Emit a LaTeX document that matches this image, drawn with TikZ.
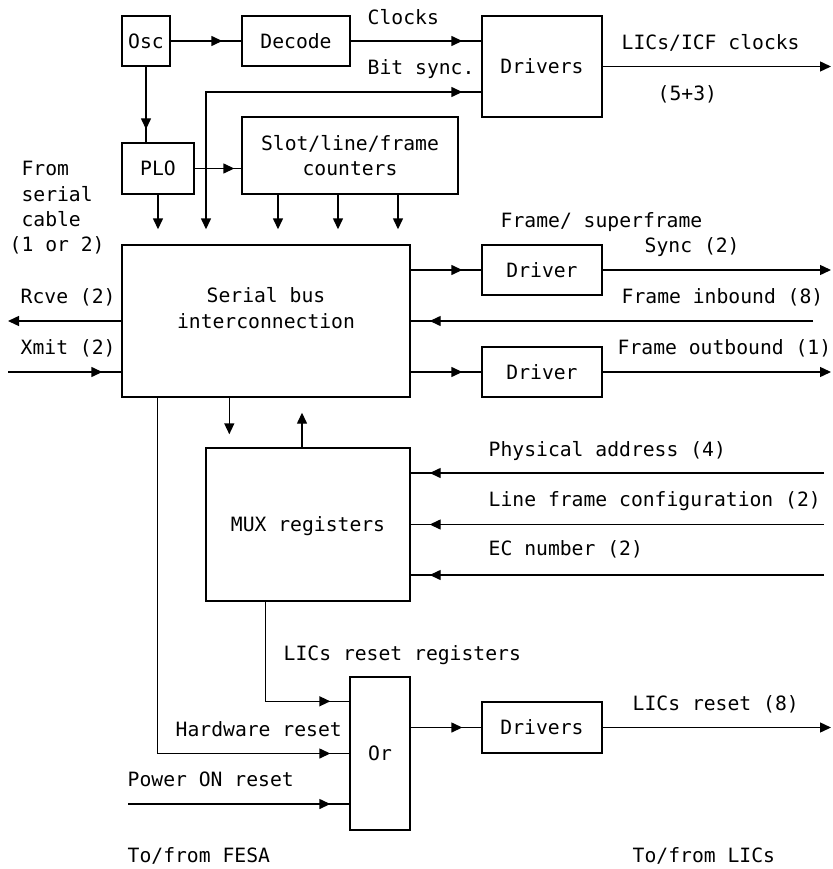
\documentclass[tikz,border=0pt]{standalone}
\usepackage{fontspec}
\setmonofont{DejaVu Sans Mono}
\usetikzlibrary{arrows.meta,decorations.markings}

\tikzset{
  wtip/.tip={Triangle[length=11pt,width=10pt]},
  box/.style={draw, inner sep=0pt, text height=14.5pt, text depth=0pt},
  lbl/.style={anchor=west, inner sep=0pt, text height=14.5pt, text depth=0pt},
  into/.style={postaction={decorate},
    decoration={markings, mark=at position -#1 with {\arrow{wtip}}}},
  into/.default=19pt,
}

\begin{document}
\begin{tikzpicture}[x=1pt, y=-1pt, line width=1.4pt,
  every node/.style={font=\ttfamily\fontsize{19.7}{25.4}\selectfont}]

\useasboundingbox (0,0) rectangle (832,869);

% clock generation
\node[box, minimum width=48, minimum height=50] (osc) at (146,41) {Osc};
\node[box, minimum width=108, minimum height=50] (decode) at (296,41) {Decode};
\node[box, minimum width=120, minimum height=101] (clkdrv) at (542,66.5) {Drivers};
\node[box, minimum width=72, minimum height=51] (plo) at (158,168.5) {PLO};
\node[box, minimum width=216, minimum height=77, align=center,
  text height=, text depth=] (counters) at (350,155.5) {Slot/line/frame\\counters};

\node[lbl] (clk) at (367,17) {Clocks};
\node[lbl] (bitsync) at (367,67) {Bit sync.};
\node[lbl] (licclk) at (621,42) {LICs/ICF clocks};
\node[lbl] (licnum) at (657,93) {(5+3)};

% serial bus
\node[box, minimum width=288, minimum height=152] (sbus) at (266,321) {};
\node[align=center, inner sep=0pt] (sbustext) at (266,308) {Serial bus\\interconnection};
\node[box, minimum width=120, minimum height=50] (syncdrv) at (542,270) {Driver};
\node[box, minimum width=120, minimum height=50] (outdrv) at (542,372) {Driver};

\node[anchor=west, align=left, inner sep=0pt] (serial) at (9,208) {~From\\~serial\\~cable\\(1 or 2)};
\node[lbl] (rcve) at (20,296) {Rcve (2)};
\node[lbl] (xmit) at (20,347) {Xmit (2)};
\node[lbl] (fsf) at (500,220) {Frame/ superframe};
\node[lbl] (sync) at (644,245) {Sync (2)};
\node[lbl] (finb) at (621,296) {Frame inbound (8)};
\node[lbl] (foutb) at (617,347) {Frame outbound (1)};

% registers
\node[box, minimum width=204, minimum height=153] (mux) at (308,524.5) {MUX registers};
\node[lbl] (phys) at (488,449) {Physical address (4)};
\node[lbl] (lfc) at (488,499) {Line frame configuration (2)};
\node[lbl] (ecn) at (488,548) {EC number (2)};

% reset
\node[box, minimum width=60, minimum height=153] (orgate) at (380,753.5) {Or};
\node[box, minimum width=120, minimum height=51] (rstdrv) at (542,727.5) {Drivers};
\node[lbl] (rstreg) at (283,653) {LICs reset registers};
\node[lbl] (hwrst) at (175,729) {Hardware reset};
\node[lbl] (pwrrst) at (127,779) {Power ON reset};
\node[lbl] (licrst) at (632,703) {LICs reset (8)};
\node[lbl] (fesa) at (127,855) {To/from FESA};
\node[lbl] (lics) at (632,855) {To/from LICs};

% free ends
\coordinate (redge) at (831,0);
\coordinate (ledge) at (8,0);
\coordinate (bs) at (206,92);
\coordinate (inb) at (813,321);
\coordinate (xin) at (8,372);
\coordinate (pa) at (824,473);
\coordinate (lf) at (824,524.5);
\coordinate (ec) at (824,575);
\coordinate (pwr) at (128,804);

% connectors
\draw[into] (osc) -- (decode);
\draw[into] (decode.east) -- (decode.east -| clkdrv.west);
\draw[{wtip}-, shorten <=15pt, into] (bs |- sbus.north) -- (bs) -- (bs -| clkdrv.west);
\draw[-{wtip}] (clkdrv.east) -- (clkdrv.east -| redge);
\draw[into=13pt] (osc.south) -- (osc.south |- plo.north);
\draw[into=7pt] (plo.east) -- (plo.east -| counters.west);

\draw[-{wtip}, shorten >=15pt] (plo.south) -- (plo.south |- sbus.north);
\draw[-{wtip}, shorten >=15pt] ([xshift=-72]counters.south) -- ([xshift=-72]counters.south |- sbus.north);
\draw[-{wtip}, shorten >=15pt] ([xshift=-12]counters.south) -- ([xshift=-12]counters.south |- sbus.north);
\draw[-{wtip}, shorten >=15pt] ([xshift=48]counters.south) -- ([xshift=48]counters.south |- sbus.north);

\draw[into] (syncdrv.west -| sbus.east) -- (syncdrv.west);
\draw[-{wtip}] (syncdrv.east) -- (syncdrv.east -| redge);
\draw[into] (inb) -- (inb -| sbus.east);
\draw[into] (outdrv.west -| sbus.east) -- (outdrv.west);
\draw[-{wtip}] (outdrv.east) -- (outdrv.east -| redge);
\draw[-{wtip}] (sbus.west) -- (sbus.west -| ledge);
\draw[into] (xin) -- (xin -| sbus.west);

\draw[-{wtip}, shorten >=13pt] ([xshift=24]mux.north west |- sbus.south) -- ([xshift=24]mux.north west);
\draw[-{wtip}, shorten >=15pt] ([xshift=-6]mux.north) -- ([xshift=-6]mux.north |- sbus.south);

\draw[into] (pa) -- (pa -| mux.east);
\draw[into] (lf) -- (lf -| mux.east);
\draw[into] (ec) -- (ec -| mux.east);

\draw[into] ([xshift=36]sbus.south west) |- (orgate.west);
\draw[into] ([xshift=60]mux.south west) |- (orgate.west |- rstdrv.north);
\draw[into] (pwr) -- (pwr -| orgate.west);
\draw[into] (rstdrv.west -| orgate.east) -- (rstdrv.west);
\draw[-{wtip}] (rstdrv.east) -- (rstdrv.east -| redge);

\end{tikzpicture}
\end{document}
